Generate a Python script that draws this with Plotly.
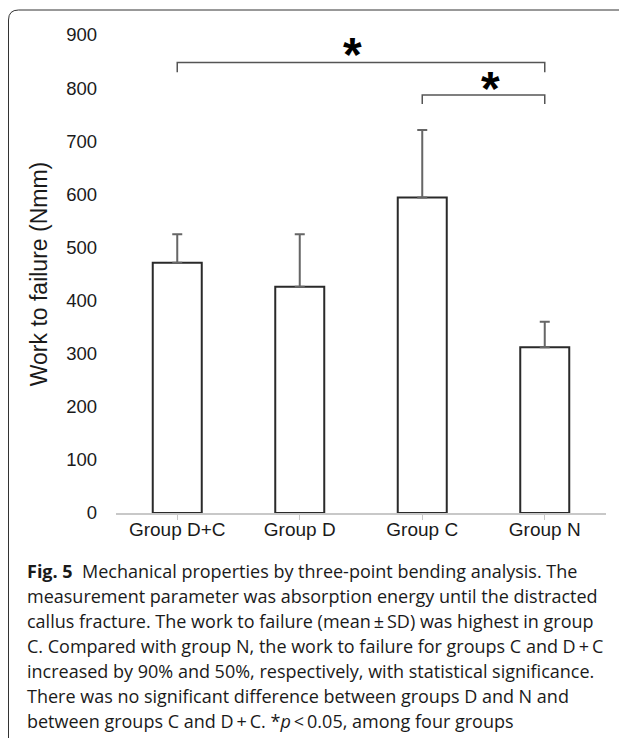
import plotly.graph_objects as go

categories = ["Group D+C", "Group D", "Group C", "Group N"]
means = [471, 426, 594, 312]
sd = [54, 99, 127, 48]
y_ticks = [0, 100, 200, 300, 400, 500, 600, 700, 800, 900]

caption_lines = [
    "<b>Fig. 5</b>&nbsp;&nbsp;Mechanical properties by three-point bending analysis. The",
    "measurement parameter was absorption energy until the distracted",
    "callus fracture. The work to failure (mean\u2009\u00b1\u2009SD) was highest in group",
    "C. Compared with group N, the work to failure for groups C and D\u2009+\u2009C",
    "increased by 90% and 50%, respectively, with statistical significance.",
    "There was no significant difference between groups D and N and",
    "between groups C and D\u2009+\u2009C. *<i>p</i>\u2009<\u20090.05, among four groups",
]

OFF = 8  # page body margin
W, H = 627 - OFF, 738 - OFF
L, R, T, B = 108, 21, 27, 225
PW = W - L - R
PH = H - T - B


def px_x(px):
    return (px - OFF - L) / PW


def px_y(py):
    return (H - B - (py - OFF)) / PH


fig = go.Figure()
fig.add_trace(go.Bar(
    x=list(range(len(categories))),
    y=means,
    marker=dict(color="white", line=dict(color="#2a2a2a", width=2)),
    error_y=dict(type="data", array=sd, arrayminus=[0] * len(sd), symmetric=False,
                 color="#666666", thickness=2, width=5),
    width=0.4,
    showlegend=False,
))

# significance brackets
brackets = [(0, 3, 848, 830, 1.43, 876), (2, 3, 787, 770, 2.56, 812)]
for x0, x1, ytop, ybot, xs, ys in brackets:
    fig.add_shape(type="path",
                  path=f"M {x0} {ybot} L {x0} {ytop} L {x1} {ytop} L {x1} {ybot}",
                  xref="x", yref="y", line=dict(color="#555555", width=1.5))
    fig.add_annotation(x=xs, y=ys, xref="x", yref="y", text="<b>*</b>", showarrow=False,
                       font=dict(family="Liberation Sans", size=48, color="black"),
                       yanchor="middle", yshift=-7)

# caption
fs = 18
y0 = 571
for i, line in enumerate(caption_lines):
    fig.add_annotation(x=px_x(25), y=px_y(y0 + i * 25), xref="paper", yref="paper",
                       text=line, showarrow=False, xanchor="left", yanchor="middle",
                       font=dict(family="Open Sans", size=fs, color="#1a1a1a"))

# rounded border (open on right / bottom)
r = 10
fig.add_shape(type="path",
              path=(f"M {px_x(8.5)} {px_y(760)} L {px_x(8.5)} {px_y(10 + r)} "
                    f"Q {px_x(8.5)} {px_y(10)} {px_x(8.5 + r)} {px_y(10)} L {px_x(660)} {px_y(10)}"),
              xref="paper", yref="paper", line=dict(color="#333333", width=1))

fig.update_layout(
    width=W, height=H,
    margin=dict(l=L, r=R, t=T, b=B),
    plot_bgcolor="white", paper_bgcolor="white",
    font=dict(family="Liberation Sans", color="#1a1a1a"),
    xaxis=dict(
        tickmode="array", tickvals=list(range(len(categories))), ticktext=categories,
        range=[-0.5, 3.5], showline=True, linecolor="#c8c8c8", linewidth=1.5,
        ticks="outside", tickson="boundaries", ticklen=5, tickcolor="#c8c8c8",
        tickfont=dict(size=19, color="#1a1a1a"), showgrid=False, zeroline=False,
        ticklabelstandoff=-7,
    ),
    yaxis=dict(
        range=[0, 900], tickvals=y_ticks, showgrid=False, zeroline=False, showline=False,
        tickfont=dict(size=18.5, color="#1a1a1a"), ticklabelstandoff=18,
        title=dict(text="Work to failure (Nmm)", font=dict(size=23, color="#1a1a1a"), standoff=12),
    ),
)

fig.write_html("out.html")
